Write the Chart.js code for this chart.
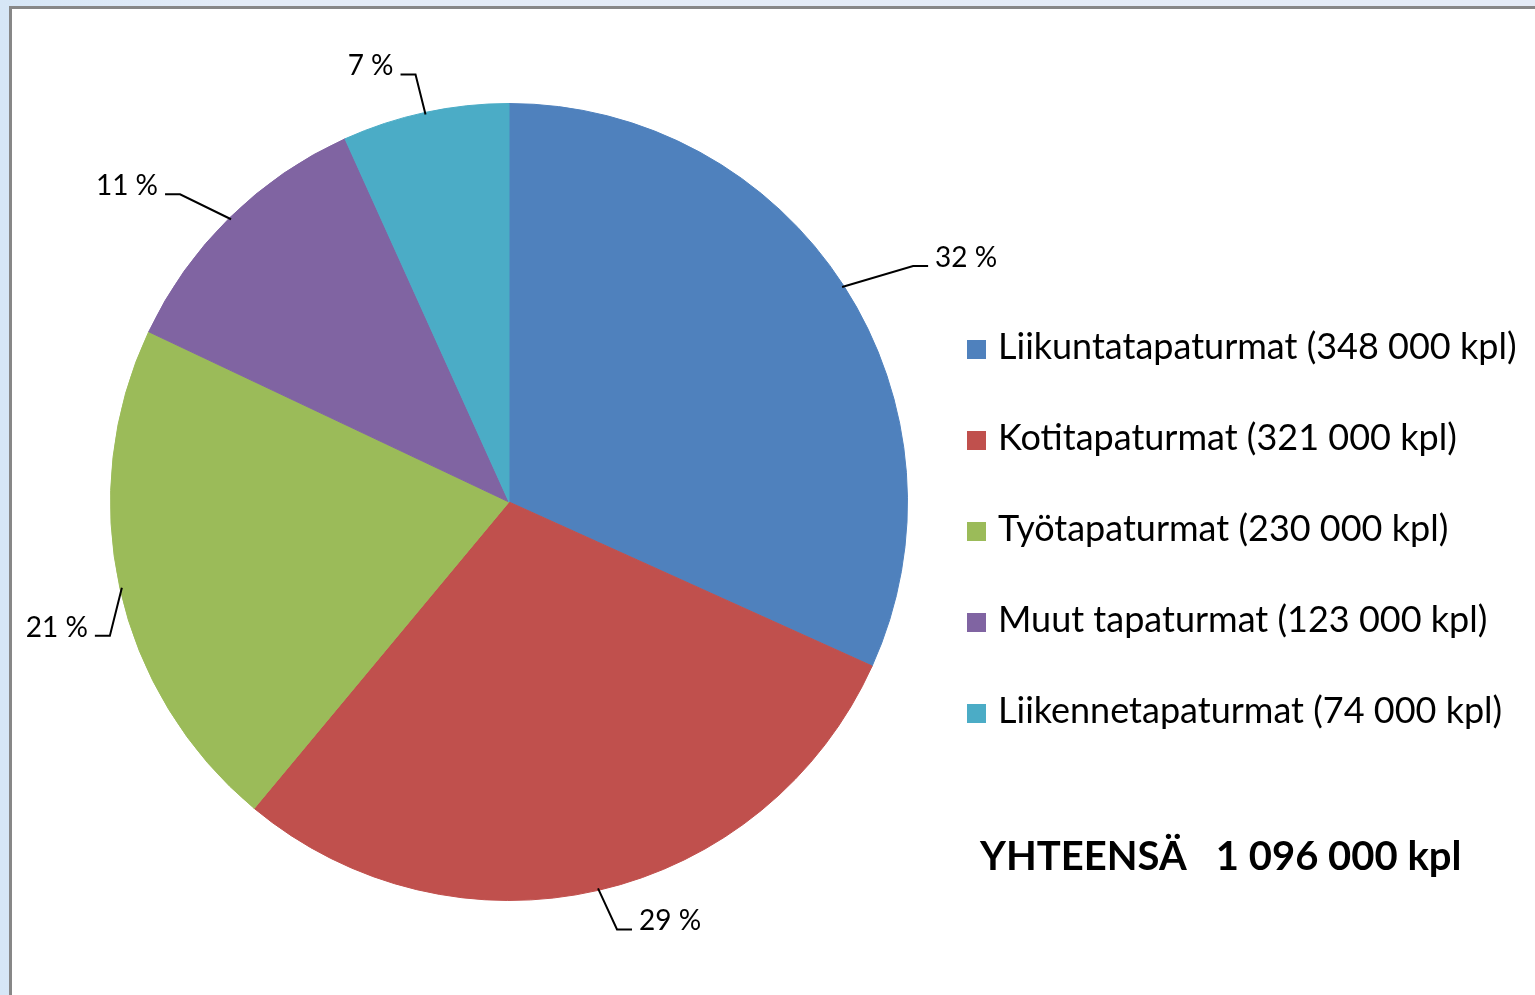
<!DOCTYPE html>
<html>
<head>
<meta charset="utf-8">
<script src="https://cdn.jsdelivr.net/npm/chart.js@4.4.0/dist/chart.umd.min.js"></script>
<style>
  html, body { margin: 0; padding: 0; }
  body {
    width: 1535px; height: 995px; overflow: hidden; position: relative;
    background: linear-gradient(to right, #d6e6f6 0px, #e3ebf6 240px, #e4ebf6 100%);
    font-family: Lato;
  }
  #frame {
    position: absolute; left: 9px; top: 6px; width: 1600px; height: 1100px;
    background: #fff; border-top: 3px solid #878787; border-left: 3px solid #878787;
  }
  #myChart { position: absolute; left: 0; top: 0; }
</style>
</head>
<body>
<div id="frame"></div>
<canvas id="myChart" width="1535" height="995"></canvas>
<script>
// accident counts (kpl)
let categories = ['Liikuntatapaturmat', 'Kotitapaturmat', 'Työtapaturmat', 'Muut tapaturmat', 'Liikennetapaturmat'];
let counts = [348000, 321000, 230000, 123000, 74000];
let colors = ['#4f81bd', '#c0504d', '#9bbb59', '#8064a2', '#4bacc6'];
let totalLabel = 'YHTEENSÄ';

function fmt(n) {
  return String(n).replace(/\B(?=(\d{3})+(?!\d))/g, ' ');
}
let total = counts.reduce(function(a, b) { return a + b; }, 0);

// leader line elbow offsets from the slice edge
let leaderOffsets = [[71, -21], [19, 41], [-12, 48], [-51, -25], [-10, -40]];

let labelsPlugin = {
  id: 'excelLabels',
  afterDatasetsDraw: function(chart) {
    let ctx = chart.ctx;
    let meta = chart.getDatasetMeta(0);
    ctx.save();
    ctx.strokeStyle = '#000';
    ctx.lineWidth = 2;
    ctx.fillStyle = '#000';
    ctx.font = '28px Lato';
    ctx.textBaseline = 'alphabetic';
    meta.data.forEach(function(arc, i) {
      let mid = (arc.startAngle + arc.endAngle) / 2;
      let ex = arc.x + Math.cos(mid) * (arc.outerRadius - 2);
      let ey = arc.y + Math.sin(mid) * (arc.outerRadius - 2);
      let bx = ex + leaderOffsets[i][0];
      let by = ey + leaderOffsets[i][1];
      let dir = Math.cos(mid) >= 0 ? 1 : -1;
      let hx = bx + dir * 15;
      ctx.beginPath();
      ctx.moveTo(ex, ey);
      ctx.lineTo(bx, by);
      ctx.lineTo(hx, by);
      ctx.stroke();
      let pct = Math.round(counts[i] / total * 100) + ' %';
      ctx.textAlign = dir > 0 ? 'left' : 'right';
      ctx.fillText(pct, hx + dir * 7, by + 1);
    });

    // legend
    ctx.textAlign = 'left';
    ctx.font = '36px Lato';
    categories.forEach(function(c, i) {
      let y = 359 + i * 91;
      ctx.fillStyle = colors[i];
      ctx.fillRect(967, y - 19, 19, 19);
      ctx.fillStyle = '#000';
      ctx.fillText(c + ' (' + fmt(counts[i]) + ' kpl)', 998, y);
    });

    ctx.font = 'bold 40px Lato';
    ctx.fillText(totalLabel + '   ' + fmt(total) + ' kpl', 980, 870);
    ctx.restore();
  }
};

function draw() {
  new Chart('myChart', {
    type: 'pie',
    data: {
      labels: categories,
      datasets: [{
        data: counts,
        backgroundColor: colors,
        borderColor: colors,
        borderWidth: 1
      }]
    },
    options: {
      responsive: false,
      animation: false,
      layout: { padding: { top: 103, bottom: 94, left: 110, right: 627 } },
      plugins: {
        legend: { display: false },
        tooltip: { enabled: false }
      }
    },
    plugins: [labelsPlugin]
  });
}

Promise.all([
  document.fonts.load('28px Lato'),
  document.fonts.load('bold 40px Lato')
]).then(draw, draw);
</script>
</body>
</html>
